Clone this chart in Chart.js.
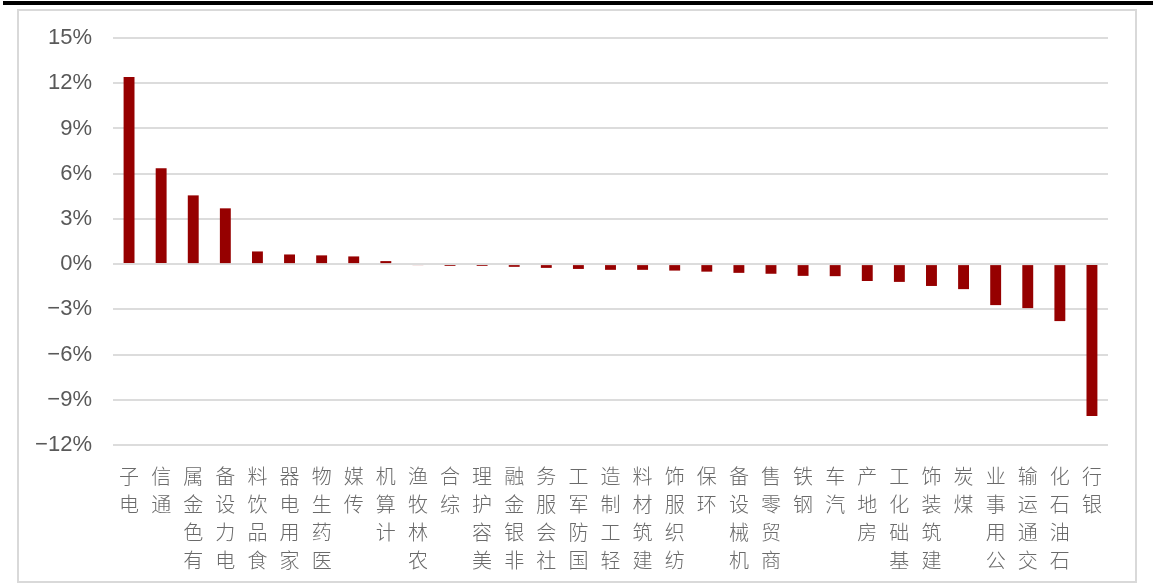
<!DOCTYPE html>
<html>
<head>
<meta charset="utf-8">
<script src="https://cdn.jsdelivr.net/npm/chart.js@4/dist/chart.umd.min.js"></script>
<style>
  html, body { margin: 0; padding: 0; background: #ffffff; }
  body { width: 1154px; height: 586px; position: relative; overflow: hidden; }
  #topRule { position: absolute; left: 3px; top: 1px; width: 1150px; height: 4px; background: #000000; }
  #frame { position: absolute; left: 17px; top: 9px; width: 1120px; height: 574px;
           box-sizing: border-box; border: 2px solid #d9d9d9; }
  #chart { position: absolute; left: 0; top: 0; }
</style>
</head>
<body>
<div id="topRule"></div>
<div id="frame"><canvas id="chart" width="1116" height="570"></canvas></div>
<script>
// Industry names (申万一级) and their returns, in percent
const categories = ['电子', '通信', '有色金属', '电力设备', '食品饮料', '家用电器', '医药生物', '传媒',
  '计算机', '农林牧渔', '综合', '美容护理', '非银金融', '社会服务', '国防军工', '轻工制造', '建筑材料',
  '纺织服饰', '环保', '机械设备', '商贸零售', '钢铁', '汽车', '房地产', '基础化工', '建筑装饰', '煤炭',
  '公用事业', '交通运输', '石油石化', '银行'];
const returns = [12.42, 6.36, 4.56, 3.70, 0.84, 0.64, 0.58, 0.51, 0.20, -0.06, -0.12, -0.12, -0.18,
  -0.25, -0.32, -0.38, -0.38, -0.43, -0.50, -0.58, -0.64, -0.78, -0.80, -1.12, -1.18, -1.45, -1.66,
  -2.72, -2.92, -3.78, -10.08];
const yMin = -12, yMax = 15, yStep = 3;

// Stack each name vertically; the last character sits nearest the axis
const stackedLabels = categories.map(name => Array.from(name).reverse());

const fmtPct = v => (v < 0 ? '\u2212' : '') + Math.abs(v) + '%';

new Chart(document.getElementById('chart'), {
  type: 'bar',
  data: {
    labels: stackedLabels,
    datasets: [{
      data: returns,
      backgroundColor: '#960000',
      borderWidth: 0,
      barPercentage: 0.34,
      categoryPercentage: 1.0
    }]
  },
  options: {
    responsive: false,
    devicePixelRatio: 1,
    animation: false,
    layout: { padding: { left: 0, right: 27, top: 27, bottom: 0 } },
    plugins: { legend: { display: false }, tooltip: { enabled: false } },
    scales: {
      x: {
        grid: { display: false },
        border: { display: false },
        ticks: {
          autoSkip: false,
          maxRotation: 0,
          minRotation: 0,
          padding: 9,
          color: '#6a6a6a',
          font: { family: '"Noto Sans CJK SC", sans-serif', size: 20, weight: 300, lineHeight: 1.4 }
        },
        afterFit: scale => { scale.height = 136; }
      },
      y: {
        min: yMin,
        max: yMax,
        grid: { color: '#dcdcdc', lineWidth: 2, drawTicks: true, tickLength: 19, tickColor: 'rgba(0,0,0,0)' },
        border: { display: false },
        ticks: {
          stepSize: yStep,
          padding: 2,
          color: '#595959',
          font: { family: '"Liberation Sans", Arial, sans-serif', size: 22 },
          callback: v => fmtPct(v)
        },
        afterFit: scale => { scale.width = 94; }
      }
    }
  }
});
</script>
</body>
</html>
